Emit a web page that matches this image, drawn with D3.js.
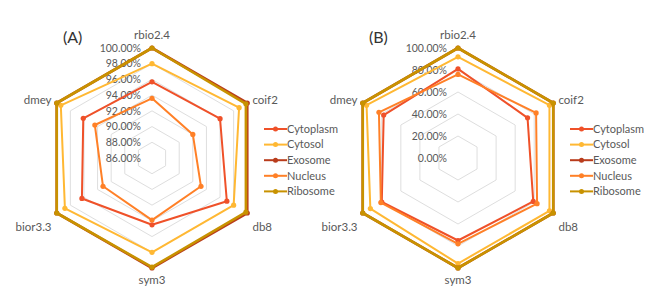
<!DOCTYPE html>
<html>
<head>
<meta charset="utf-8">
<script src="https://cdn.jsdelivr.net/npm/d3@7"></script>
<style>
  body { margin: 0; background: #fff; }
  svg { font-family: "Lato", "Open Sans", sans-serif; }
</style>
</head>
<body>
<div id="chart"></div>
<script>
var categories = ["rbio2.4", "coif2", "db8", "sym3", "bior3.3", "dmey"];
var seriesNames = ["Cytoplasm", "Cytosol", "Exosome", "Nucleus", "Ribosome"];
var seriesColors = ["#ef5129", "#ffb833", "#b93c1c", "#ff8027", "#c89200"];

// panel A values (%), order follows categories
var cytoplasmA = [95.7, 96.0, 97.0, 94.5, 96.3, 96.1];
var cytosolA   = [98.0, 98.8, 98.0, 98.0, 98.8, 99.4];
var exosomeA   = [100.0, 100.0, 100.0, 100.0, 100.0, 100.0];
var nucleusA   = [93.6, 92.0, 93.2, 93.9, 93.2, 94.4];
var ribosomeA  = [100.0, 99.8, 99.8, 99.9, 100.0, 100.0];
var ticksA = [86, 88, 90, 92, 94, 96, 98, 100];

// panel B values (%)
var cytoplasmB = [81, 73, 79, 75, 80, 78];
var cytosolB   = [92, 96, 96, 96, 92, 96];
var exosomeB   = [100, 100, 100, 100, 100, 100];
var nucleusB   = [76, 82, 83, 78, 81, 83];
var ribosomeB  = [100, 100, 100, 100, 100, 100];
var ticksB = [0, 20, 40, 60, 80, 100];

var width = 655, height = 307;
var svg = d3.select("#chart").append("svg")
    .attr("width", width)
    .attr("height", height);

function drawRadar(cx, cy, R, ticks, series, tag, legendX) {
    var g = svg.append("g").attr("transform", "translate(" + cx + "," + cy + ")");
    var r = d3.scaleLinear()
        .domain([ticks[0], ticks[ticks.length - 1]])
        .range([0, R]);
    var angle = d3.scalePoint()
        .domain(categories)
        .range([0, 2 * Math.PI * (categories.length - 1) / categories.length]);

    var line = d3.lineRadial()
        .angle(function(d, i) { return angle(categories[i]); })
        .radius(function(d) { return r(d); })
        .curve(d3.curveLinearClosed);

    // grid rings
    ticks.forEach(function(t) {
        if (t === ticks[0]) return;
        g.append("path")
            .attr("d", line(categories.map(function() { return t; })))
            .attr("fill", "none")
            .attr("stroke", "#dedede")
            .attr("stroke-width", 1);
    });

    // tick labels
    g.selectAll(".tick-label")
        .data(ticks)
        .enter()
        .append("text")
        .attr("x", -11)
        .attr("y", function(d) { return -r(d); })
        .attr("dy", "0.35em")
        .attr("text-anchor", "end")
        .attr("fill", "#595959")
        .style("font-size", "10.5px")
        .text(function(d) { return d.toFixed(2) + "%"; });

    // category labels
    categories.forEach(function(c) {
        var a = angle(c);
        var lx = (R + 6) * Math.sin(a), ly = -(R + 6) * Math.cos(a);
        var anchor = "middle", dy = "0.35em";
        if (Math.sin(a) > 0.1) anchor = "start";
        if (Math.sin(a) < -0.1) anchor = "end";
        if (c === "rbio2.4") { ly = -R - 13; }
        if (c === "sym3") { ly = R + 8; dy = "0.7em"; }
        if (c === "db8" || c === "bior3.3") { ly = ly + 11; }
        g.append("text")
            .attr("x", lx)
            .attr("y", ly)
            .attr("dy", dy)
            .attr("text-anchor", anchor)
            .attr("fill", "#595959")
            .style("font-size", "11.5px")
            .text(c);
    });

    // series
    series.forEach(function(vals, i) {
        var w = (seriesNames[i] === "Exosome" || seriesNames[i] === "Ribosome") ? 2.6 : 2;
        g.append("path")
            .attr("d", line(vals))
            .attr("fill", "none")
            .attr("stroke", seriesColors[i])
            .attr("stroke-width", w)
            .attr("stroke-linejoin", "round");
        g.selectAll(".pt" + i)
            .data(vals)
            .enter()
            .append("circle")
            .attr("cx", function(d, j) { return r(d) * Math.sin(angle(categories[j])); })
            .attr("cy", function(d, j) { return -r(d) * Math.cos(angle(categories[j])); })
            .attr("r", 2.6)
            .attr("fill", seriesColors[i]);
    });

    // panel tag
    svg.append("text")
        .attr("x", cx - 89)
        .attr("y", 43)
        .attr("fill", "#333")
        .style("font-size", "16px")
        .text(tag);

    // legend
    var leg = svg.append("g").attr("transform", "translate(" + legendX + ",129)");
    seriesNames.forEach(function(name, i) {
        var row = leg.append("g").attr("transform", "translate(0," + (i * 15.6) + ")");
        row.append("line")
            .attr("x1", 0).attr("x2", 23)
            .attr("stroke", seriesColors[i])
            .attr("stroke-width", 2);
        row.append("circle")
            .attr("cx", 11.5).attr("r", 2.5)
            .attr("fill", seriesColors[i]);
        row.append("text")
            .attr("x", 23)
            .attr("dy", "0.35em")
            .attr("fill", "#595959")
            .style("font-size", "11px")
            .text(name);
    });
}

drawRadar(152, 158, 110, ticksA, [cytoplasmA, cytosolA, exosomeA, nucleusA, ribosomeA], "(A)", 264);
drawRadar(458, 158, 110, ticksB, [cytoplasmB, cytosolB, exosomeB, nucleusB, ribosomeB], "(B)", 570);
</script>
</body>
</html>
